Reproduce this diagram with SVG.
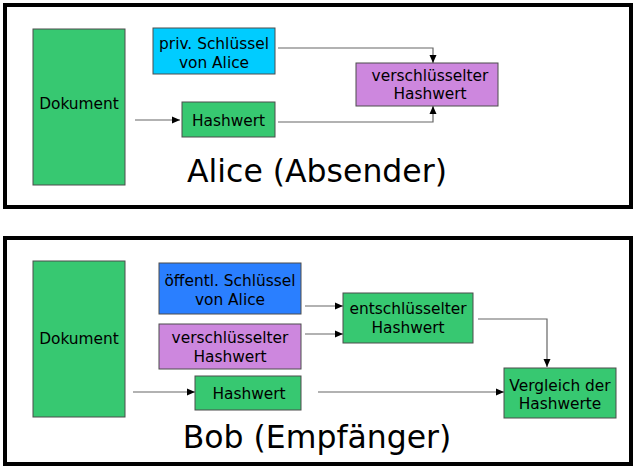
<svg xmlns="http://www.w3.org/2000/svg" width="635" height="469" viewBox="0 0 635 469">
<style>
.frame{fill:#fff;stroke:#000;stroke-width:4}
.box{stroke:#4d4d4d;stroke-width:1}
.g{fill:#37c871}.c{fill:#00ccff}.b{fill:#2a7fff}.p{fill:#cd87de}
.t{font-family:"DejaVu Sans",sans-serif;font-size:15.4px;fill:#000;text-anchor:middle}
.big{font-family:"DejaVu Sans",sans-serif;font-size:31.5px;fill:#000;text-anchor:middle}
.con{fill:none;stroke:#666;stroke-width:1.2;marker-end:url(#ah)}
</style>
<defs>
<marker id="ah" markerWidth="8" markerHeight="8" viewBox="0 0 8 8" refX="8" refY="4" orient="auto" markerUnits="userSpaceOnUse">
<path d="M0,0.5 L8,4 L0,7.5 Z" fill="#000"/>
</marker>
</defs>
<rect width="635" height="469" fill="#fff"/>
<rect class="frame" x="5" y="5" width="626" height="202"/>
<rect class="frame" x="5" y="238" width="626" height="226"/>
<text class="big" x="317" y="182">Alice (Absender)</text>
<text class="big" x="317" y="448">Bob (Empfänger)</text>
<g id="connectors">
<path class="con" d="M135,120 H180"/>
<path class="con" d="M278,48 H433 V63"/>
<path class="con" d="M278,122 H433 V106"/>
<path class="con" d="M133,392 H195"/>
<path class="con" d="M305,306 H343"/>
<path class="con" d="M305,334 H343"/>
<path class="con" d="M478,319 H547 V367"/>
<path class="con" d="M318,392 H504"/>
</g>
<g id="a-dokument"><rect class="box g" x="33" y="29" width="92" height="156"/><text class="t" x="79" y="108.5">Dokument</text></g>
<g id="a-privkey"><rect class="box c" x="153" y="28" width="122" height="46"/><text class="t" x="214" y="48.5">priv. Schlüssel</text><text class="t" x="214" y="67.5">von Alice</text></g>
<g id="a-hash"><rect class="box g" x="182" y="102" width="93" height="35"/><text class="t" x="228.5" y="126">Hashwert</text></g>
<g id="a-enc"><rect class="box p" x="356" y="63" width="142" height="43"/><text class="t" x="430" y="80.5">verschlüsselter</text><text class="t" x="430" y="98.5">Hashwert</text></g>
<g id="b-dokument"><rect class="box g" x="33" y="261" width="92" height="156"/><text class="t" x="79" y="343.5">Dokument</text></g>
<g id="b-pubkey"><rect class="box b" x="159" y="263" width="142" height="51"/><text class="t" x="230" y="285.5">öffentl. Schlüssel</text><text class="t" x="230" y="304.5">von Alice</text></g>
<g id="b-enc"><rect class="box p" x="159" y="324" width="142" height="45"/><text class="t" x="230" y="342.5">verschlüsselter</text><text class="t" x="230" y="361.5">Hashwert</text></g>
<g id="b-hash"><rect class="box g" x="195" y="376" width="106" height="34"/><text class="t" x="249" y="398.5">Hashwert</text></g>
<g id="b-dec"><rect class="box g" x="343" y="293" width="130" height="50"/><text class="t" x="408" y="313.5">entschlüsselter</text><text class="t" x="408" y="332.5">Hashwert</text></g>
<g id="b-compare"><rect class="box g" x="504" y="368" width="112" height="50"/><text class="t" x="560" y="390.5">Vergleich der</text><text class="t" x="560" y="408.5">Hashwerte</text></g>
</svg>
